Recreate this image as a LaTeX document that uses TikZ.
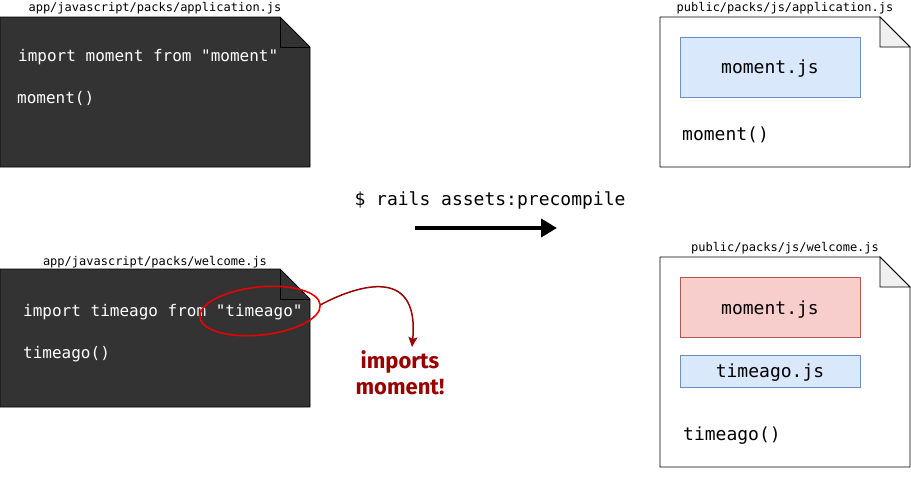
\documentclass[tikz,border=0pt]{standalone}
\usepackage{fontspec}
\setmonofont{DejaVu Sans Mono}
\newfontfamily\handfont{Fira Sans}
\usetikzlibrary{shapes.geometric,arrows.meta}
\definecolor{darkdoc}{HTML}{333333}
\definecolor{foldgray}{HTML}{F0F0F0}
\definecolor{bluefill}{HTML}{DAE8FC}
\definecolor{blueline}{HTML}{6C8EBF}
\definecolor{redfill}{HTML}{F8CECC}
\definecolor{redline}{HTML}{B85450}
\definecolor{hand}{HTML}{990000}
\definecolor{ellred}{HTML}{E80000}
\tikzset{
  darkdocstyle/.style={fill=darkdoc,draw=black,line width=0.8pt},
  lightdocstyle/.style={fill=white,draw=black,line width=0.8pt},
  foldlight/.style={fill=foldgray,draw=black,line width=0.8pt},
  fname/.style={font=\ttfamily\fontsize{12}{14}\selectfont,anchor=base,inner sep=0pt},
  darkcode/.style={font=\ttfamily\fontsize{16}{18}\selectfont,text=white,anchor=base west,inner sep=0pt},
  lightcode/.style={font=\ttfamily\fontsize{18}{20}\selectfont,text=black,anchor=base west,inner sep=0pt},
  bluebox/.style={fill=bluefill,draw=blueline,line width=0.8pt},
  redbox/.style={fill=redfill,draw=redline,line width=0.8pt},
  boxtext/.style={font=\ttfamily\fontsize{18}{20}\selectfont,anchor=base,inner sep=0pt},
}
\begin{document}
\begin{tikzpicture}[x=1pt,y=-1pt]
\useasboundingbox (0,0) rectangle (911,488);

% top-left dark document
\path[darkdocstyle] (0,17) -- (280,17) -- (310,47) -- (310,167) -- (0,167) -- cycle;
\draw[black,line width=0.8pt] (280,17) -- (280,47) -- (310,47);
\node[fname] (l1) at (155,11) {app/javascript/packs/application.js};
\node[darkcode] (c1) at (18,61.5) {import moment from "moment"};
\node[darkcode] (c2) at (17,103) {moment()};

% bottom-left dark document
\path[darkdocstyle] (0,269) -- (280,269) -- (310,299) -- (310,407) -- (0,407) -- cycle;
\draw[black,line width=0.8pt] (280,269) -- (280,299) -- (310,299);
\node[fname] (l2) at (155,265) {app/javascript/packs/welcome.js};
\node[darkcode] (c3) at (23,316) {import timeago from "timeago"};
\node[darkcode] (c4) at (23,358) {timeago()};

% highlight ellipse and note
\node[ellipse,draw=ellred,line width=1.6pt,minimum width=121pt,minimum height=48pt,rotate=6,inner sep=0pt] (ell) at (260,311) {};
\node[font=\handfont\bfseries\fontsize{22}{26}\selectfont,text=hand,align=center,inner sep=0pt] (note) at (400,373) {imports\\moment!};
\draw[hand,line width=1.5pt,-{Stealth[length=10pt,width=9pt,inset=2pt]}] (ell.east)
  .. controls (352,288) and (420,262) .. (412,347);

% command and arrow
\node[font=\ttfamily\fontsize{18}{20}\selectfont,anchor=base,inner sep=0pt] (cmd) at (490,205) {\$ rails assets:precompile};
\coordinate (a1) at (415,228);
\coordinate (a2) at (557,228);
\draw[line width=4pt,-{Triangle[length=16pt,width=18pt]}] (a1) -- (a2);

% top-right document
\path[lightdocstyle] (660,17) -- (880,17) -- (910,47) -- (910,167) -- (660,167) -- cycle;
\path[foldlight] (880,17) -- (880,47) -- (910,47) -- cycle;
\node[fname] (l3) at (785,11) {public/packs/js/application.js};
\node[bluebox,minimum width=180pt,minimum height=60pt,inner sep=0pt] (b1) at (770,67) {};
\node[boxtext] (t1) at (770,73.5) {moment.js};
\node[lightcode] (c5) at (682,140) {moment()};

% bottom-right document
\path[lightdocstyle] (660,257) -- (880,257) -- (910,287) -- (910,467) -- (660,467) -- cycle;
\path[foldlight] (880,257) -- (880,287) -- (910,287) -- cycle;
\node[fname] (l4) at (785,251) {public/packs/js/welcome.js};
\node[redbox,minimum width=180pt,minimum height=60pt,inner sep=0pt] (b2) at (770,307) {};
\node[boxtext] (t2) at (770,314) {moment.js};
\node[bluebox,minimum width=180pt,minimum height=32pt,inner sep=0pt] (b3) at (770,371) {};
\node[boxtext] (t3) at (770,377.5) {timeago.js};
\node[lightcode] (c6) at (683,440) {timeago()};
\end{tikzpicture}
\end{document}
